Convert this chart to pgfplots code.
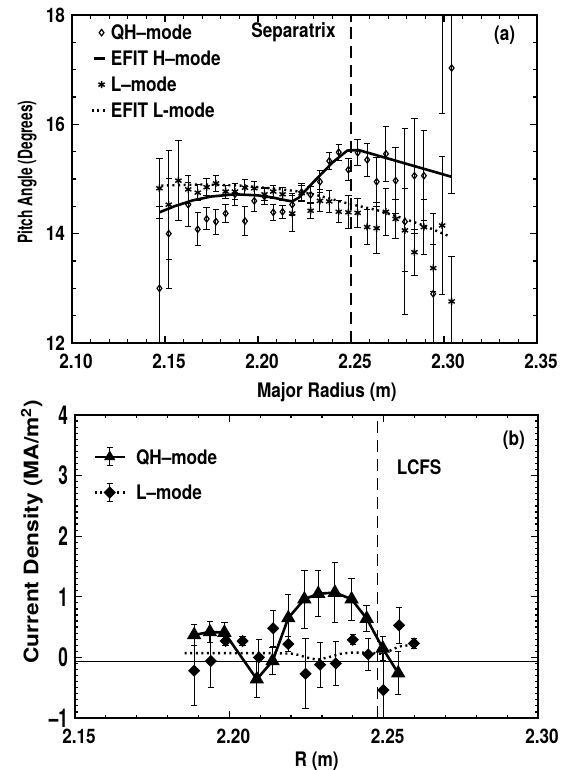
\documentclass[border=0pt]{standalone}
\usepackage{fontspec}
\setmainfont{TeX Gyre Heros}[FakeStretch=0.86]
\usepackage{graphicx}
\usepackage{pgfplots}
\usepackage{pgfplotstable}
\pgfplotsset{compat=1.18}

\newcommand{\lf}{\fontsize{10}{12}\selectfont\bfseries}

% panel (a): pitch angle, R / value / error
\pgfplotstableread{
R v e
2.1470 13.00 1.50
2.1520 14.00 1.00
2.1625 14.53 0.40
2.1676 14.08 0.30
2.1724 14.27 0.20
2.1774 14.22 0.23
2.1826 14.37 0.17
2.1876 14.72 0.20
2.1930 14.23 0.27
2.1980 14.60 0.20
2.2035 14.68 0.15
2.2082 14.39 0.15
2.2132 14.40 0.12
2.2184 14.53 0.20
2.2234 14.76 0.15
2.2283 14.71 0.15
2.2333 14.95 0.20
2.2383 15.33 0.15
2.2434 15.49 0.15
2.2486 15.17 0.20
2.2536 15.48 0.24
2.2587 15.35 0.30
2.2638 14.95 0.45
2.2688 15.46 0.50
2.2740 14.97 0.60
2.2790 14.22 1.70
2.2841 15.06 1.05
2.2892 15.06 0.82
2.2942 12.90 1.47
2.2990 18.40 2.20
2.3041 17.03 2.30
}\qhA

\pgfplotstableread{
R v e
2.1470 14.83 0.55
2.1520 14.53 1.00
2.1572 14.97 0.73
2.1625 14.81 0.25
2.1676 14.75 0.15
2.1724 14.85 0.15
2.1774 14.92 0.15
2.1826 14.77 0.12
2.1876 14.77 0.15
2.1930 14.84 0.15
2.1980 14.83 0.12
2.2035 14.72 0.12
2.2082 14.77 0.12
2.2132 14.72 0.12
2.2184 14.37 0.33
2.2234 14.74 0.15
2.2283 14.42 0.15
2.2333 14.60 0.20
2.2383 14.59 0.20
2.2434 14.40 0.20
2.2486 14.39 0.30
2.2536 14.38 0.26
2.2587 14.12 0.32
2.2638 14.10 0.47
2.2688 14.40 0.43
2.2740 14.27 0.35
2.2790 14.06 0.76
2.2841 13.66 0.42
2.2892 14.12 0.50
2.2942 13.37 0.43
2.2990 14.15 1.27
2.3041 12.76 0.83
}\lmA

\pgfplotstableread{
R v
2.1470 14.39
2.1550 14.50
2.1650 14.61
2.1750 14.68
2.1875 14.72
2.2000 14.70
2.2080 14.66
2.2150 14.61
2.2184 14.59
2.2220 14.66
2.2300 14.95
2.2400 15.30
2.2480 15.52
2.2540 15.53
2.3041 15.04
}\efitH

\pgfplotstableread{
R v
2.1480 14.88
2.1700 14.90
2.1900 14.88
2.2100 14.82
2.2200 14.78
2.2300 14.72
2.2486 14.55
2.2640 14.43
2.2790 14.27
2.2890 14.15
2.3030 13.95
}\efitL

% panel (b): current density
\pgfplotstableread{
R v e
2.1886 0.37 0.17
2.1937 0.42 0.17
2.1984 0.41 0.17
2.2089 -0.36 0.30
2.2140 -0.06 0.22
2.2191 0.65 0.38
2.2243 0.96 0.48
2.2288 1.05 0.38
2.2342 1.07 0.50
2.2396 0.96 0.35
2.2445 0.64 0.22
2.2497 0.15 0.20
2.2547 -0.26 0.35
}\qhB

\pgfplotstableread{
R v e
2.1886 -0.22 0.57
2.1940 -0.06 0.44
2.1988 0.27 0.08
2.2043 0.27 0.08
2.2096 0.00 0.30
2.2142 0.48 0.30
2.2191 0.22 0.12
2.2247 -0.27 0.58
2.2294 -0.12 0.37
2.2345 -0.10 0.37
2.2400 0.29 0.08
2.2450 0.05 0.27
2.2499 -0.54 0.60
2.2550 0.53 0.30
2.2598 0.23 0.08
}\lmB

\pgfplotstableread{
R v
2.1855 0.07
2.1950 0.07
2.2050 0.07
2.2150 0.07
2.2210 0.06
2.2250 0.00
2.2285 -0.04
2.2320 0.00
2.2360 0.06
2.2400 0.08
2.2450 0.08
2.2490 0.06
2.2520 0.11
2.2550 0.18
2.2595 0.21
}\fitB

\pgfplotsset{
  panel/.style={
    scale only axis, anchor=south west, clip marker paths=true,
    tick align=inside, axis line style={line width=1pt},
    every tick/.style={black, line width=0.6pt},
    major tick length=3.5pt, minor tick length=1.8pt,
    tick label style={font=\lf}, label style={font=\lf},
    xticklabel style={yshift=-2pt, xshift=2pt},
    legend cell align=left,
  },
  ebar/.style={
    error bars/y dir=both, error bars/y explicit,
    error bars/error bar style={line width=0.5pt, solid},
    error bars/error mark options={rotate=90, mark size=1.6pt, line width=0.5pt, solid},
  },
}

\begin{document}
\begin{tikzpicture}[x=1pt,y=1pt]
\path[use as bounding box] (0,0) rectangle (281,385);

\begin{axis}[panel, at={(36pt,213.5pt)}, width=232.5pt, height=164pt,
  xmin=2.10, xmax=2.35, ymin=12, ymax=18,
  xtick={2.10,2.15,2.20,2.25,2.30,2.35},
  xticklabels={2.10,2.15,2.20,2.25,2.30,2.35},
  minor x tick num=4,
  ytick={12,14,16,18}, yticklabels={12,14,16,18}, minor y tick num=3,
  xlabel={Major Radius (m)},
  ylabel={\scalebox{0.8}[1]{Pitch Angle (Degrees)}},
  xlabel style={at={(axis description cs:0.548,-0.149)}, anchor=center},
  ylabel style={at={(axis description cs:-0.0968,0.521)}, anchor=center},
  legend style={draw=none, fill=none, at={(axis description cs:0.0387,0.9695)},
    anchor=north west, inner sep=0pt, row sep=5.8pt, column sep=2.5pt,
    nodes={inner sep=0pt, text height=7.2pt, text depth=0pt}, font=\lf},
]
\addlegendimage{legend image code/.code={\path[draw=none,fill=none] (0pt,-3pt) rectangle (6.5pt,3pt);
  \draw[line width=0.6pt] plot[mark=diamond, mark size=1.6pt, mark options={fill=white}] coordinates {(5pt,0pt)};}}
\addlegendentry{QH--mode}
\addlegendimage{legend image code/.code={\path[draw=none,fill=none] (0pt,-3pt) rectangle (6.5pt,3pt);
  \draw[line width=1.2pt] (1pt,0pt) -- (6.5pt,0pt);}}
\addlegendentry{EFIT H--mode}
\addlegendimage{legend image code/.code={\path[draw=none,fill=none] (0pt,-3pt) rectangle (6.5pt,3pt);
  \draw[line width=0.7pt] plot[mark=asterisk, mark size=1.8pt] coordinates {(5pt,0pt)};}}
\addlegendentry{L--mode}
\addlegendimage{legend image code/.code={\path[draw=none,fill=none] (0pt,-3pt) rectangle (6.5pt,3pt);
  \draw[line width=1.2pt, dash pattern=on 1pt off 1.8pt] (0pt,0pt) -- (6.5pt,0pt);}}
\addlegendentry{EFIT L-mode}

\addplot[forget plot, line width=0.6pt, dash pattern=on 6pt off 3.5pt] coordinates {(2.25,12) (2.25,18)};
\addplot[forget plot, no markers, line width=1.2pt, dash pattern=on 1pt off 1.8pt] table[x=R,y=v] {\efitL};
\addplot[forget plot, no markers, line width=1.3pt] table[x=R,y=v] {\efitH};
\addplot[forget plot, only marks, mark=asterisk, mark size=1.8pt, line width=0.7pt, ebar]
  table[x=R,y=v,y error=e] {\lmA};
\addplot[forget plot, only marks, mark=diamond, mark size=1.6pt, line width=0.6pt,
  mark options={fill=white}, ebar]
  table[x=R,y=v,y error=e] {\qhA};

\node[anchor=east, font=\lf] at (axis cs:2.2455,17.69) {Separatrix};
\node[anchor=east, font=\lf] at (axis cs:2.342,17.63) {(a)};
\end{axis}

\begin{axis}[panel, at={(37.5pt,26pt)}, width=231.5pt, height=151.5pt,
  xmin=2.15, xmax=2.30, ymin=-1, ymax=4,
  xtick={2.15,2.20,2.25,2.30}, xticklabels={2.15,2.20,2.25,2.30},
  minor x tick num=4,
  ytick={-1,0,1,2,3,4},
  yticklabels={\scalebox{1}[1.3]{--1},\scalebox{1}[1.3]{0},\scalebox{1}[1.3]{1},
    \scalebox{1}[1.3]{2},\scalebox{1}[1.3]{3},\scalebox{1}[1.3]{4}},
  minor y tick num=9, minor tick length=1.4pt,
  xlabel={R (m)},
  ylabel={\scalebox{1.32}[1]{Current Density (MA/m\textsuperscript{2})}},
  xlabel style={at={(axis description cs:0.522,-0.141)}, anchor=center},
  ylabel style={at={(axis description cs:-0.0929,0.615)}, anchor=center},
  legend style={draw=none, fill=none, at={(axis description cs:0.0389,0.896)},
    anchor=north west, inner sep=0pt, row sep=7.8pt, column sep=5pt,
    nodes={inner sep=0pt, text height=7.2pt, text depth=0pt}, font=\lf},
]
\addlegendimage{legend image code/.code={\path[draw=none,fill=none] (0pt,-5pt) rectangle (15pt,5pt);
  \draw[line width=1.3pt] (0pt,0pt) -- (15pt,0pt);
  \draw[line width=0.5pt] (7.5pt,-4.5pt) -- (7.5pt,4.5pt) (6pt,4.5pt) -- (9pt,4.5pt) (6pt,-4.5pt) -- (9pt,-4.5pt);
  \draw plot[mark=triangle*, mark size=2.9pt] coordinates {(7.5pt,0pt)};}}
\addlegendentry{QH--mode}
\addlegendimage{legend image code/.code={\path[draw=none,fill=none] (0pt,-5pt) rectangle (15pt,5pt);
  \draw[line width=1.2pt, dash pattern=on 1pt off 1.8pt] (0pt,0pt) -- (15pt,0pt);
  \draw[line width=0.5pt] (7.5pt,-4.5pt) -- (7.5pt,4.5pt) (6pt,4.5pt) -- (9pt,4.5pt) (6pt,-4.5pt) -- (9pt,-4.5pt);
  \draw plot[mark=square*, mark size=1.95pt, mark options={rotate=45}] coordinates {(7.5pt,0pt)};}}
\addlegendentry{L--mode}

\addplot[forget plot, line width=0.6pt] coordinates {(2.15,-0.07) (2.30,-0.07)};
\addplot[forget plot, line width=0.6pt, dash pattern=on 6pt off 3.5pt] coordinates {(2.248,-1) (2.248,4)};
\addplot[forget plot, no markers, line width=1.2pt, dash pattern=on 1pt off 1.8pt] table[x=R,y=v] {\fitB};
\addplot[forget plot, mark=triangle*, mark size=2.9pt, line width=1.3pt, ebar]
  table[x=R,y=v,y error=e] {\qhB};
\addplot[forget plot, only marks, mark=square*, mark size=1.95pt, mark options={rotate=45}, ebar]
  table[x=R,y=v,y error=e] {\lmB};

\node[anchor=east, font=\lf] at (axis cs:2.298,3.59) {(b)};
\node[anchor=west, font=\lf] at (axis cs:2.252,3.14) {LCFS};
\end{axis}
\end{tikzpicture}
\end{document}
